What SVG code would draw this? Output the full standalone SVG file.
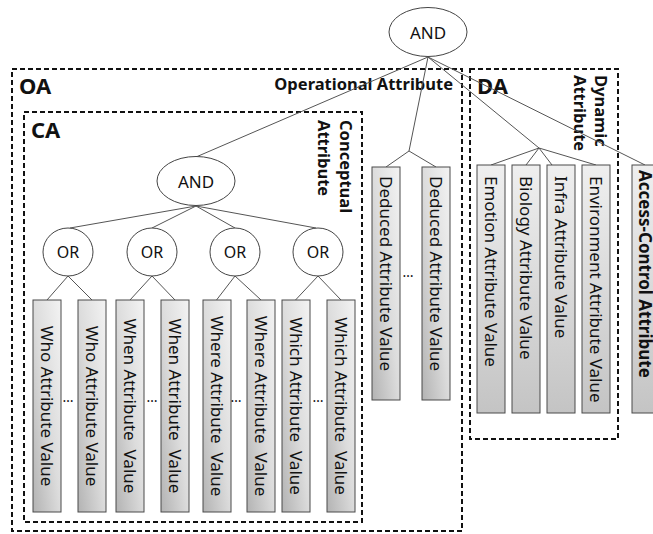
<svg xmlns="http://www.w3.org/2000/svg" width="653" height="534" viewBox="0 0 653 534">
  <style>
    text { font-family: "Noto Sans", "Open Sans", "DejaVu Sans", sans-serif; fill: #111; }
    .op { fill: #fff; stroke: #444; stroke-width: 1; }
    .opt { font-size: 17px; text-anchor: middle; dominant-baseline: central; }
    .ort { font-size: 16px; }
    .grp { fill: none; stroke: #111; stroke-width: 2; stroke-dasharray: 5 3; }
    .gname { font-size: 22px; font-weight: bold; }
    .gdesc { font-size: 16.5px; font-weight: bold; }
    .val { stroke: #4a4a4a; stroke-width: 1; }
    .ca { fill: url(#diag); }
    .dy { fill: url(#vert); }
    .vt { font-size: 17px; dominant-baseline: central; }
    .mid { text-anchor: middle; }
    .dots { font-size: 14px; text-anchor: middle; }
    #links line { stroke: #555; stroke-width: 1; }
  </style>
  <defs>
    <linearGradient id="diag" x1="1" y1="0" x2="0" y2="1">
      <stop offset="0" stop-color="#f3f3f3"/>
      <stop offset="0.5" stop-color="#dcdcdc"/>
      <stop offset="1" stop-color="#b3b3b3"/>
    </linearGradient>
    <linearGradient id="vert" x1="0" y1="0" x2="0" y2="1">
      <stop offset="0" stop-color="#efefef"/>
      <stop offset="1" stop-color="#c4c4c4"/>
    </linearGradient>
  </defs>

  <!-- group frames -->
  <g id="oa-frame">
    <rect class="grp" x="12" y="69" width="450" height="462"/>
    <text class="gname" x="19" y="94">OA</text>
    <text class="gdesc" x="453" y="90" text-anchor="end">Operational Attribute</text>
  </g>
  <g id="ca-frame">
    <rect class="grp" x="24" y="112" width="338" height="410"/>
    <text class="gname" x="31" y="138">CA</text>
    <text class="gdesc" transform="translate(340,120) rotate(90)"><tspan x="0" y="0">Conceptual</tspan><tspan x="0" y="22">Attribute</tspan></text>
  </g>
  <g id="da-frame">
    <rect class="grp" x="470" y="69" width="148" height="370"/>
    <text class="gname" x="477" y="94">DA</text>
    <text class="gdesc" transform="translate(595,75) rotate(90)"><tspan x="0" y="0">Dynamic</tspan><tspan x="0" y="21">Attribute</tspan></text>
  </g>

  <!-- connectors -->
  <g id="links">
    <line x1="428" y1="57" x2="196" y2="157"/>
    <line x1="428" y1="57" x2="409" y2="151"/>
    <line x1="428" y1="57" x2="539" y2="148"/>
    <line x1="428" y1="57" x2="645" y2="165"/>
    <line x1="196" y1="206" x2="70" y2="228"/>
    <line x1="196" y1="206" x2="152" y2="228"/>
    <line x1="196" y1="206" x2="235" y2="228"/>
    <line x1="196" y1="206" x2="316" y2="228"/>
    <line x1="68" y1="276" x2="47" y2="300"/>
    <line x1="68" y1="276" x2="92" y2="300"/>
    <line x1="152" y1="276" x2="130" y2="300"/>
    <line x1="152" y1="276" x2="175" y2="300"/>
    <line x1="235" y1="276" x2="216.5" y2="300"/>
    <line x1="235" y1="276" x2="261" y2="300"/>
    <line x1="318" y1="276" x2="295.5" y2="300"/>
    <line x1="318" y1="276" x2="341" y2="300"/>
    <line x1="409" y1="151" x2="386" y2="167"/>
    <line x1="409" y1="151" x2="436" y2="167"/>
    <line x1="539" y1="148" x2="491" y2="165"/>
    <line x1="539" y1="148" x2="526" y2="165"/>
    <line x1="539" y1="148" x2="552" y2="165"/>
    <line x1="539" y1="148" x2="596" y2="165"/>
  </g>

  <!-- operator nodes -->
  <g id="and-root">
    <ellipse class="op" cx="428" cy="32" rx="39" ry="24.5"/>
    <text class="opt" x="428" y="32">AND</text>
  </g>
  <g id="and-ca">
    <ellipse class="op" cx="196" cy="181" rx="39" ry="24.5"/>
    <text class="opt" x="196" y="181">AND</text>
  </g>
  <g id="or-who">
    <ellipse class="op" cx="68" cy="252" rx="25" ry="24"/>
    <text class="opt ort" x="68" y="252">OR</text>
  </g>
  <g id="or-when">
    <ellipse class="op" cx="152" cy="252" rx="25" ry="24"/>
    <text class="opt ort" x="152" y="252">OR</text>
  </g>
  <g id="or-where">
    <ellipse class="op" cx="235" cy="252" rx="25" ry="24"/>
    <text class="opt ort" x="235" y="252">OR</text>
  </g>
  <g id="or-which">
    <ellipse class="op" cx="318" cy="252" rx="25" ry="24"/>
    <text class="opt ort" x="318" y="252">OR</text>
  </g>

  <!-- conceptual attribute values -->
  <g id="who-1">
    <rect class="val ca" x="33" y="300" width="28" height="212"/>
    <text class="vt mid" transform="translate(47,406) rotate(90)">Who Attribute Value</text>
  </g>
  <g id="who-2">
    <rect class="val ca" x="78" y="300" width="28" height="212"/>
    <text class="vt mid" transform="translate(92,406) rotate(90)">Who Attribute Value</text>
  </g>
  <g id="when-1">
    <rect class="val ca" x="116" y="300" width="28" height="212"/>
    <text class="vt mid" transform="translate(130,406) rotate(90)" xml:space="preserve">When Attribute  Value</text>
  </g>
  <g id="when-2">
    <rect class="val ca" x="161" y="300" width="28" height="212"/>
    <text class="vt mid" transform="translate(175,406) rotate(90)" xml:space="preserve">When Attribute  Value</text>
  </g>
  <g id="where-1">
    <rect class="val ca" x="203" y="300" width="28" height="212"/>
    <text class="vt mid" transform="translate(217,406) rotate(90)" xml:space="preserve">Where Attribute  Value</text>
  </g>
  <g id="where-2">
    <rect class="val ca" x="247" y="300" width="28" height="212"/>
    <text class="vt mid" transform="translate(261,406) rotate(90)" xml:space="preserve">Where Attribute  Value</text>
  </g>
  <g id="which-1">
    <rect class="val ca" x="282" y="300" width="28" height="212"/>
    <text class="vt mid" transform="translate(296,406) rotate(90)" xml:space="preserve">Which Attribute  Value</text>
  </g>
  <g id="which-2">
    <rect class="val ca" x="327" y="300" width="28" height="212"/>
    <text class="vt mid" transform="translate(341,406) rotate(90)" xml:space="preserve">Which Attribute  Value</text>
  </g>
  <g id="ca-ellipses">
    <text class="dots" x="68" y="402">…</text>
    <text class="dots" x="152" y="402">…</text>
    <text class="dots" x="236" y="402">…</text>
    <text class="dots" x="318" y="402">…</text>
  </g>

  <!-- deduced attribute values -->
  <g id="deduced-1">
    <rect class="val ca" x="372" y="167" width="28" height="233"/>
    <text class="vt" transform="translate(386,176) rotate(90)">Deduced Attribute Value</text>
  </g>
  <g id="deduced-2">
    <rect class="val ca" x="422" y="167" width="28" height="233"/>
    <text class="vt" transform="translate(436,176) rotate(90)">Deduced Attribute Value</text>
  </g>
  <text class="dots" x="408" y="277">…</text>

  <!-- dynamic attribute values -->
  <g id="emotion">
    <rect class="val dy" x="477" y="165" width="28" height="248"/>
    <text class="vt" transform="translate(491,176) rotate(90)">Emotion Attribute Value</text>
  </g>
  <g id="biology">
    <rect class="val dy" x="512" y="165" width="28" height="248"/>
    <text class="vt" transform="translate(526,176) rotate(90)">Biology Attribute Value</text>
  </g>
  <g id="infra">
    <rect class="val dy" x="547" y="165" width="28" height="248"/>
    <text class="vt" transform="translate(561,176) rotate(90)">Infra Attribute Value</text>
  </g>
  <g id="environment">
    <rect class="val dy" x="582" y="165" width="28" height="248"/>
    <text class="vt" transform="translate(596,176) rotate(90)">Environment Attribute Value</text>
  </g>

  <!-- access-control attribute, running off the right edge -->
  <g id="access-control">
    <rect class="val dy" x="632" y="165" width="28" height="248"/>
    <text class="vt" font-weight="bold" transform="translate(645,170) rotate(90)">Access-Control Attribute</text>
  </g>
</svg>
